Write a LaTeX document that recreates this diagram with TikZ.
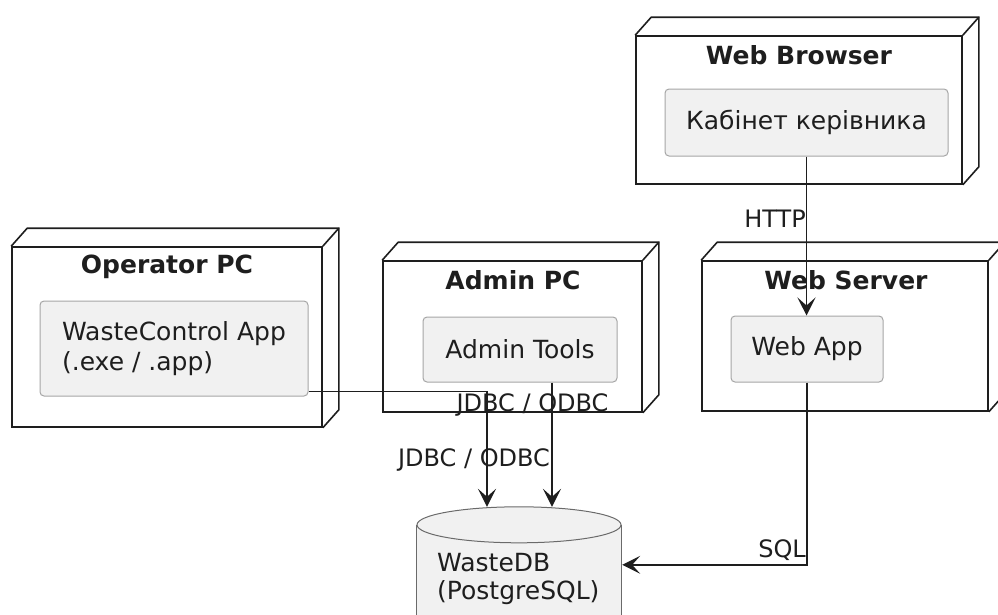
\documentclass[tikz,border=0pt]{standalone}
\usepackage{fontspec}
\setmainfont{DejaVu Sans}
\usetikzlibrary{arrows.meta,calc}

\definecolor{inkc}{HTML}{1E1E1E}
\definecolor{compfill}{HTML}{F1F1F1}
\definecolor{compline}{HTML}{A6A6A6}
\definecolor{dbline}{HTML}{6A6A6A}

\begin{document}
\begin{tikzpicture}[x=1pt,y=-1pt,
  host/.style={draw=inkc, line width=1.6pt, fill=white, inner sep=0pt},
  hostedge/.style={draw=inkc, line width=1.6pt, line join=miter},
  hosttitle/.style={text=inkc, font=\fontsize{25}{30}\selectfont\bfseries},
  comp/.style={draw=compline, line width=1pt, fill=compfill, rounded corners=4pt,
    text=inkc, font=\fontsize{25}{30}\selectfont, inner sep=0pt},
  lbl/.style={text=inkc, font=\fontsize{24}{28}\selectfont, inner sep=0pt},
  conn/.style={draw=inkc, line width=1.5pt,
    -{Stealth[length=18pt, width=18pt, inset=8pt]}}
]
\useasboundingbox (0,0) rectangle (998,614);

% ---- hosts (front faces) ----
\node[host, minimum width=326pt, minimum height=148pt] (browser) at (799,110) {};
\node[host, minimum width=286pt, minimum height=150pt] (server)  at (845,336) {};
\node[host, minimum width=310pt, minimum height=180pt] (oppc)    at (167,337) {};
\node[host, minimum width=259pt, minimum height=151pt] (adminpc) at (512.5,336.5) {};

% ---- depth of every host box ----
\foreach \h in {browser,server,oppc,adminpc}{
  \draw[hostedge] (\h.north west) -- ++(16,-18) -| ($(\h.south east)+(16,-18)$) -- (\h.south east);
  \draw[hostedge] (\h.north east) -- ++(16,-18);
}

% ---- host titles ----
\node[hosttitle] (tbrowser) at (799,55)   {Web Browser};
\node[hosttitle] (tserver)  at (846,280)  {Web Server};
\node[hosttitle] (toppc)    at (167,267)  {Operator PC};
\node[hosttitle] (tadmin)   at (513,280)  {Admin PC};

% ---- components ----
\node[comp, minimum width=283pt, minimum height=67pt] (kab)  at (806.5,122.5) {Кабінет керівника};
\node[comp, minimum width=152pt, minimum height=66pt] (wapp) at (807,349) {Web App};
\node[comp, minimum width=268pt, minimum height=95pt, align=left] (wc) at (174,348.5)
  {WasteControl App\\(.exe / .app)};
\node[comp, minimum width=194pt, minimum height=65pt] (atools) at (520,349.5) {Admin Tools};

% ---- database cylinder ----
\node[minimum width=204pt, minimum height=143pt, inner sep=0pt] (db) at (519,578.5) {};
\fill[compfill] ($(db.north west)+(0,18)$) -- (db.south west) -- (db.south east)
  -- ($(db.north east)+(0,18)$) -- cycle;
\draw[dbline, line width=1pt] ($(db.north west)+(0,18)$) -- (db.south west)
  ($(db.north east)+(0,18)$) -- (db.south east);
\draw[dbline, line width=1pt, fill=compfill] ($(db.north)+(0,18)$) ellipse [x radius=102pt, y radius=18pt];
\node[text=inkc, font=\fontsize{25}{28}\selectfont, align=left, anchor=west, inner sep=0pt]
  (dbtext) at (437,579) {WasteDB\\(PostgreSQL)};

% ---- connector end points ----
\coordinate (atout) at ($(atools.south)+(32,0)$);
\coordinate (dbin1) at ($(db.north)+(-32,0)$);
\coordinate (dbin2) at (atout |- db.north);
\coordinate (dbin3) at ($(db.north east)+(1,58)$);

% ---- connectors ----
\draw[conn] (kab.south) -- (kab.south |- wapp.north);
\draw[conn] ($(wc.south east)+(0,-5)$) -| (dbin1);
\draw[conn] (atout) -- (dbin2);
\draw[conn] (wapp.south) |- (dbin3);

% ---- connector labels ----
\node[lbl, anchor=east] (lhttp) at (806,219) {HTTP};
\node[lbl] (ljdbc1) at (532.5,405) {JDBC / ODBC};
\node[lbl] (ljdbc2) at (474,460) {JDBC / ODBC};
\node[lbl, anchor=east] (lsql) at (806,550) {SQL};
\end{tikzpicture}
\end{document}
